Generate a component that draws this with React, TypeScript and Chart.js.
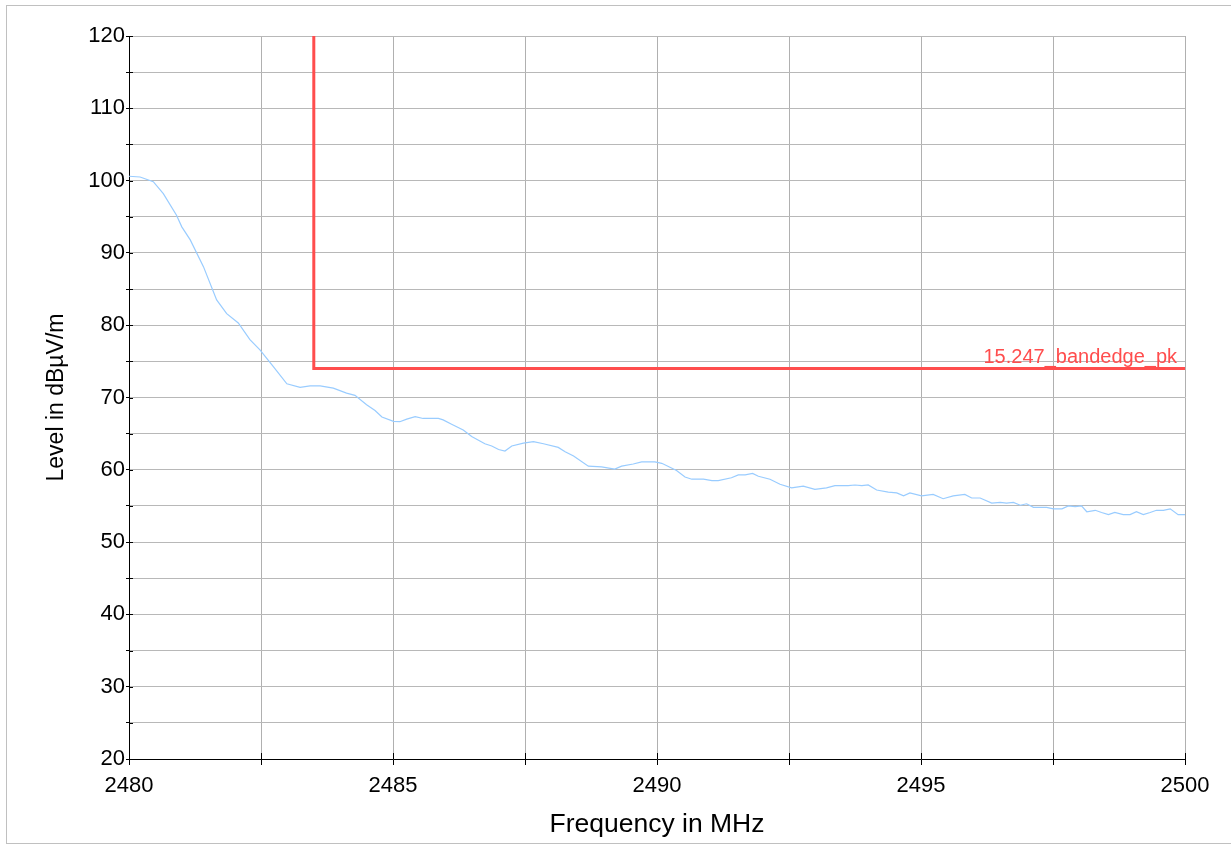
import React, { useEffect, useRef } from "react";
import { Chart, registerables } from "chart.js";

Chart.register(...registerables);

// Measured trace (frequency in MHz, level in dBµV/m)
const freqMHz = [
  2480.0, 2480.21, 2480.46, 2480.65, 2480.9, 2481.0, 2481.16, 2481.41, 2481.66, 2481.85,
  2482.07, 2482.29, 2482.48, 2482.73, 2482.99, 2483.24, 2483.43, 2483.62, 2483.87, 2484.12,
  2484.28, 2484.5, 2484.66, 2484.79, 2485.01, 2485.13, 2485.26, 2485.42, 2485.57, 2485.86,
  2485.95, 2486.11, 2486.33, 2486.49, 2486.74, 2486.87, 2487.0, 2487.12, 2487.25, 2487.47,
  2487.66, 2487.85, 2488.13, 2488.26, 2488.42, 2488.7, 2488.95, 2489.2, 2489.33, 2489.55,
  2489.71, 2489.96, 2490.09, 2490.37, 2490.53, 2490.66, 2490.88, 2491.04, 2491.16, 2491.41,
  2491.54, 2491.67, 2491.81, 2491.92, 2492.14, 2492.33, 2492.55, 2492.77, 2492.99, 2493.21,
  2493.37, 2493.62, 2493.75, 2493.88, 2494.0, 2494.16, 2494.38, 2494.54, 2494.67, 2494.79,
  2495.01, 2495.23, 2495.42, 2495.61, 2495.83, 2495.96, 2496.12, 2496.34, 2496.5, 2496.62,
  2496.75, 2496.88, 2497.0, 2497.13, 2497.38, 2497.51, 2497.67, 2497.79, 2497.92, 2498.04,
  2498.14, 2498.3, 2498.42, 2498.55, 2498.67, 2498.83, 2498.96, 2499.08, 2499.21, 2499.34,
  2499.46, 2499.59, 2499.72, 2499.87, 2500.0,
];
const levelDb = [
  100.6, 100.5, 99.85, 98.2, 95.2, 93.6, 91.8, 88.1, 83.5, 81.6,
  80.3, 78.0, 76.6, 74.3, 71.9, 71.4, 71.6, 71.6, 71.3, 70.6,
  70.3, 69.0, 68.2, 67.3, 66.7, 66.65, 67.0, 67.35, 67.1, 67.1,
  66.9, 66.3, 65.5, 64.6, 63.6, 63.3, 62.8, 62.6, 63.3, 63.7,
  63.9, 63.6, 63.1, 62.5, 61.9, 60.5, 60.4, 60.1, 60.5, 60.8,
  61.1, 61.1, 60.9, 59.9, 59.0, 58.7, 58.7, 58.5, 58.5, 58.9,
  59.3, 59.3, 59.5, 59.1, 58.7, 58.0, 57.5, 57.75, 57.3, 57.5,
  57.8, 57.8, 57.9, 57.8, 57.9, 57.2, 56.9, 56.8, 56.4, 56.8,
  56.4, 56.6, 56.0, 56.4, 56.6, 56.1, 56.1, 55.4, 55.5, 55.4,
  55.5, 55.1, 55.3, 54.8, 54.8, 54.6, 54.6, 55.0, 54.9, 55.0,
  54.2, 54.4, 54.1, 53.8, 54.1, 53.8, 53.8, 54.2, 53.8, 54.1,
  54.4, 54.4, 54.6, 53.8, 53.8,
];

// Limit line
const limitFreq = [2483.5, 2483.5, 2500];
const limitLevel = [120, 74, 74];
const limitLabel = "15.247_bandedge_pk";

// Axes
const xMin = 2480;
const xMax = 2500;
const xGridStep = 2.5;
const xLabelStep = 5;
const yMin = 20;
const yMax = 120;
const yGridStep = 5;
const yLabelStep = 10;
const xTitle = "Frequency in MHz";
const yTitle = "Level in dBµV/m";

const FONT = '"Liberation Sans", Arial, sans-serif';
const RED = "rgb(255,77,77)";

const overlayPlugin = {
  id: "overlay",
  afterDraw(chart: any) {
    const { ctx, chartArea, scales } = chart;
    const x = scales.x;
    const y = scales.y;
    ctx.save();
    ctx.strokeStyle = "#000";
    ctx.lineWidth = 1;
    x.ticks.forEach((t: any) => {
      const px = Math.round(x.getPixelForValue(t.value)) + 0.5;
      ctx.beginPath();
      ctx.moveTo(px, chartArea.bottom);
      ctx.lineTo(px, chartArea.bottom - 6);
      ctx.stroke();
    });
    y.ticks.forEach((t: any) => {
      const py = Math.round(y.getPixelForValue(t.value)) + 0.5;
      ctx.beginPath();
      ctx.moveTo(chartArea.left, py);
      ctx.lineTo(chartArea.left + 4, py);
      ctx.stroke();
    });
    const lx = x.getPixelForValue(limitFreq[limitFreq.length - 1]) - 8;
    const ly = y.getPixelForValue(limitLevel[limitLevel.length - 1]) - 6;
    ctx.fillStyle = RED;
    ctx.font = `20px ${FONT}`;
    ctx.textAlign = "right";
    ctx.textBaseline = "alphabetic";
    ctx.fillText(limitLabel, lx, ly);
    ctx.restore();
  },
};

export default function App() {
  const ref = useRef<HTMLCanvasElement | null>(null);

  useEffect(() => {
    if (!ref.current) return;
    const chart = new Chart(ref.current, {
      type: "line",
      data: {
        datasets: [
          {
            label: "trace",
            data: freqMHz.map((f, i) => ({ x: f, y: levelDb[i] })),
            borderColor: "#99ccff",
            borderWidth: 1.2,
            pointRadius: 0,
            tension: 0,
            fill: false,
          },
          {
            label: limitLabel,
            data: limitFreq.map((f, i) => ({ x: f, y: limitLevel[i] })),
            borderColor: RED,
            borderWidth: 3,
            pointRadius: 0,
            tension: 0,
            fill: false,
          },
        ],
      },
      options: {
        animation: false,
        responsive: false,
        devicePixelRatio: 1,
        layout: { padding: { left: 0, top: 36, right: 46, bottom: 0 } },
        plugins: {
          legend: { display: false },
          tooltip: { enabled: false },
        },
        scales: {
          x: {
            type: "linear",
            min: xMin,
            max: xMax,
            afterFit: (s: any) => {
              s.height = 86;
            },
            afterBuildTicks: (s: any) => {
              const t = [];
              for (let v = xMin; v <= xMax + 1e-9; v += xGridStep) t.push({ value: v });
              s.ticks = t;
            },
            ticks: {
              autoSkip: false,
              maxRotation: 0,
              padding: 8,
              color: "#000",
              font: { family: FONT, size: 22 },
              callback: (v: any) => (Math.abs(v % xLabelStep) < 1e-6 ? String(v) : ""),
            },
            grid: {
              color: "#b0b0b0",
              lineWidth: 1,
              tickColor: "#000",
              tickLength: 6,
            },
            border: { color: "#000", width: 1 },
            title: {
              display: true,
              text: xTitle,
              color: "#000",
              font: { family: FONT, size: 26.5 },
              padding: { top: 0, bottom: 4 },
            },
          },
          y: {
            type: "linear",
            min: yMin,
            max: yMax,
            afterFit: (s: any) => {
              s.width = 129;
            },
            afterBuildTicks: (s: any) => {
              const t = [];
              for (let v = yMin; v <= yMax + 1e-9; v += yGridStep) t.push({ value: v });
              s.ticks = t;
            },
            ticks: {
              autoSkip: false,
              padding: 1,
              color: "#000",
              font: { family: FONT, size: 22 },
              callback: (v: any) => (Math.abs(v % yLabelStep) < 1e-6 ? String(v) : ""),
            },
            grid: {
              color: "#b8b8b8",
              lineWidth: 1,
              tickColor: "#000",
              tickLength: 3,
            },
            border: { color: "#000", width: 1 },
            title: {
              display: true,
              text: yTitle,
              color: "#000",
              font: { family: FONT, size: 23 },
              padding: { top: 43, bottom: 0 },
            },
          },
        },
      },
      plugins: [overlayPlugin],
    });
    return () => chart.destroy();
  }, []);

  return (
    <div
      style={{
        position: "fixed",
        left: 0,
        top: 0,
        width: 1231,
        height: 845,
        overflow: "hidden",
        background: "#fff",
      }}
    >
      <div
        style={{
          position: "absolute",
          left: 6,
          top: 5,
          width: 1240,
          height: 837,
          border: "1px solid #c0c0c0",
        }}
      />
      <canvas
        ref={ref}
        width={1231}
        height={845}
        style={{ position: "absolute", left: 0, top: 0, width: 1231, height: 845 }}
      />
    </div>
  );
}
